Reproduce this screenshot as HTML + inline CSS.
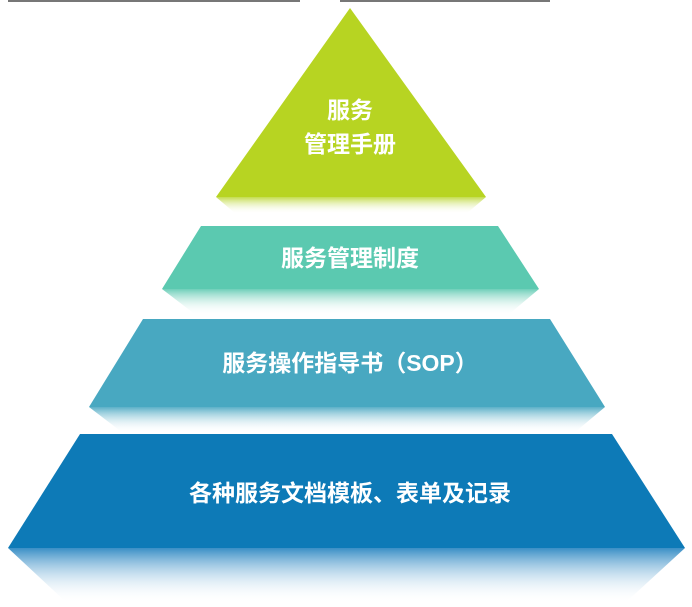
<!DOCTYPE html>
<html><head><meta charset="utf-8"><style>
html,body{margin:0;padding:0;background:#fff;width:692px;height:607px;overflow:hidden}
svg{display:block}
text{font-family:"Liberation Sans","Noto Sans CJK SC",sans-serif;font-weight:bold;fill:#fff;text-anchor:middle}
</style></head><body>
<svg width="692" height="607" viewBox="0 0 692 607" xmlns="http://www.w3.org/2000/svg">
<defs>
<linearGradient id="r1" x1="0" y1="0" x2="0" y2="1"><stop offset="0" stop-color="#c4dc4e"/><stop offset="1" stop-color="#fff" stop-opacity="0"/></linearGradient>
<linearGradient id="r2" x1="0" y1="0" x2="0" y2="1"><stop offset="0" stop-color="#6fcfb9"/><stop offset="1" stop-color="#fff" stop-opacity="0"/></linearGradient>
<linearGradient id="r3" x1="0" y1="0" x2="0" y2="1"><stop offset="0" stop-color="#5cb0c8"/><stop offset="1" stop-color="#fff" stop-opacity="0"/></linearGradient>
<linearGradient id="r4" x1="0" y1="0" x2="0" y2="1"><stop offset="0" stop-color="#3a8fc6"/><stop offset="1" stop-color="#fff" stop-opacity="0"/></linearGradient>
</defs>
<g fill="#777"><rect x="8" y="0" width="292" height="2"/><rect x="340" y="0" width="210" height="2"/></g>
<polygon points="350,8 486,197 216,197" fill="#b7d422"/>
<polygon points="216,197 486,197 466,214 236,214" fill="url(#r1)"/>
<text x="350" y="118" font-size="23">服务</text>
<text x="350" y="152" font-size="23">管理手册</text>
<polygon points="201,226 498,226 539,289 162,289" fill="#5bc9b0"/>
<polygon points="162,289 539,289 508,315 196,315" fill="url(#r2)"/>
<text x="350" y="266" font-size="23">服务管理制度</text>
<polygon points="143,319 550,319 605,407 89,407" fill="#48a8c1"/>
<polygon points="89,407 605,407 574,433 123,433" fill="url(#r3)"/>
<text x="350" y="371" font-size="23">服务操作指导书（SOP）</text>
<polygon points="80,434 612,434 685,548 8,548" fill="#0d7ab7"/>
<polygon points="8,548 685,548 625,603 67,603" fill="url(#r4)"/>
<text x="350" y="501" font-size="23">各种服务文档模板、表单及记录</text>
</svg>
</body></html>
